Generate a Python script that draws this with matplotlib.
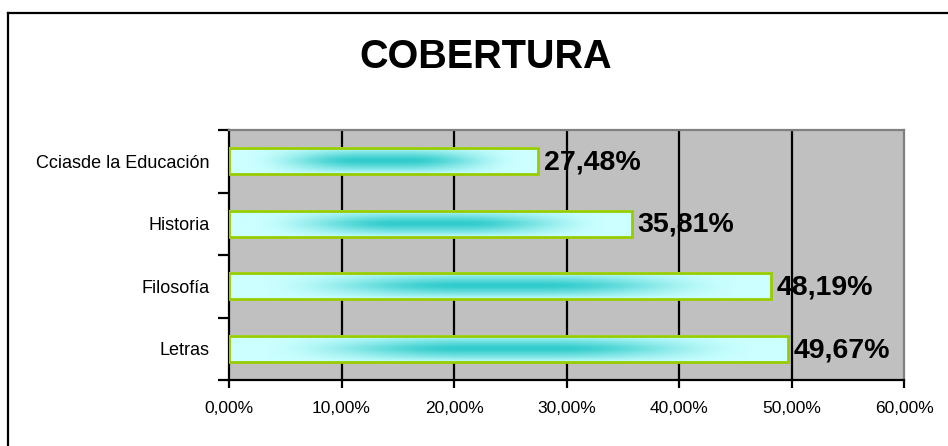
import numpy as np
import matplotlib
matplotlib.use("Agg")
import matplotlib.pyplot as plt
from matplotlib.lines import Line2D
from matplotlib.colors import LinearSegmentedColormap

plt.rcParams['font.family'] = ['Liberation Sans', 'DejaVu Sans']

categories = ["Cciasde la Educación", "Historia", "Filosofía", "Letras"]
values = [27.48, 35.81, 48.19, 49.67]
value_labels = ["27,48%", "35,81%", "48,19%", "49,67%"]
xticks = [0, 10, 20, 30, 40, 50, 60]
xtick_labels = ["0,00%", "10,00%", "20,00%", "30,00%", "40,00%", "50,00%", "60,00%"]
title = "COBERTURA"

W, H = 948, 446
fig = plt.figure(figsize=(W / 100, H / 100), dpi=100)
fig.patch.set_facecolor("white")

# outer frame (left and top visible)
fig.add_artist(Line2D([7.5 / W, 7.5 / W], [0, 1 - 13 / H], color="black", lw=1.6,
                      transform=fig.transFigure, solid_capstyle="projecting"))
fig.add_artist(Line2D([7.5 / W, 1], [1 - 13 / H, 1 - 13 / H], color="black", lw=1.6,
                      transform=fig.transFigure, solid_capstyle="projecting"))

left, right = 229 / W, 904 / W
bottom, top = 1 - 380 / H, 1 - 130 / H
ax = fig.add_axes([left, bottom, right - left, top - bottom])
ax.set_facecolor("#C0C0C0")

n = len(categories)
ypos = np.arange(n)[::-1]  # first category on top
bar_h = 0.42

cmap = LinearSegmentedColormap.from_list("g", ["#CCFFFF", "#33CCCC"])
u = np.linspace(0, 1, 400)
v = np.linspace(0, 1, 60)
dx = np.abs(2 * u - 1)
hx = np.clip((0.9 - dx) / 0.75, 0, 1)
hx = hx * hx * (3 - 2 * hx)
dy = np.abs(2 * v - 1)
hy = np.clip((1.0 - dy) / 0.9, 0, 1) ** 0.8
grad = np.outer(hy, hx)

for y, val, lab in zip(ypos, values, value_labels):
    ax.imshow(grad, cmap=cmap, vmin=0, vmax=1, aspect="auto",
              extent=(0, val, y - bar_h / 2, y + bar_h / 2), zorder=3,
              interpolation="bilinear")
    ax.barh(y, val, height=bar_h, facecolor="none", edgecolor="#99CC00",
            linewidth=2, zorder=4)
    ax.text(val + 0.5, y - 0.02, lab, ha="left", va="center", fontsize=20.5,
            fontweight="bold", color="black", zorder=5)

ax.set_xlim(0, 60)
ax.set_ylim(-0.5, n - 0.5)

ax.set_xticks(xticks)
ax.set_xticklabels(xtick_labels, fontsize=12.5)
ax.set_yticks(ypos)
ax.set_yticklabels(categories, fontsize=13)
ax.tick_params(axis="y", length=0, pad=14)
ax.tick_params(axis="x", length=6, width=1.6, direction="out", pad=9, color="black")
# y ticks between categories
ax.set_yticks(np.arange(-0.5, n, 1.0), minor=True)
ax.tick_params(axis="y", which="minor", length=8, width=1.6, direction="out", color="black")

for xv in xticks[1:-1]:
    ax.axvline(xv, color="black", lw=1.6, zorder=1)

ax.spines["left"].set_color("black")
ax.spines["left"].set_linewidth(1.6)
ax.spines["bottom"].set_color("black")
ax.spines["bottom"].set_linewidth(1.6)
ax.spines["top"].set_color("#808080")
ax.spines["top"].set_linewidth(1.6)
ax.spines["right"].set_color("#808080")
ax.spines["right"].set_linewidth(1.6)

fig.text(486 / W, 1 - 57 / H, title, ha="center", va="center", fontsize=28.5,
         fontweight="bold", color="black")

fig.savefig("out.png", dpi=100, facecolor="white")
